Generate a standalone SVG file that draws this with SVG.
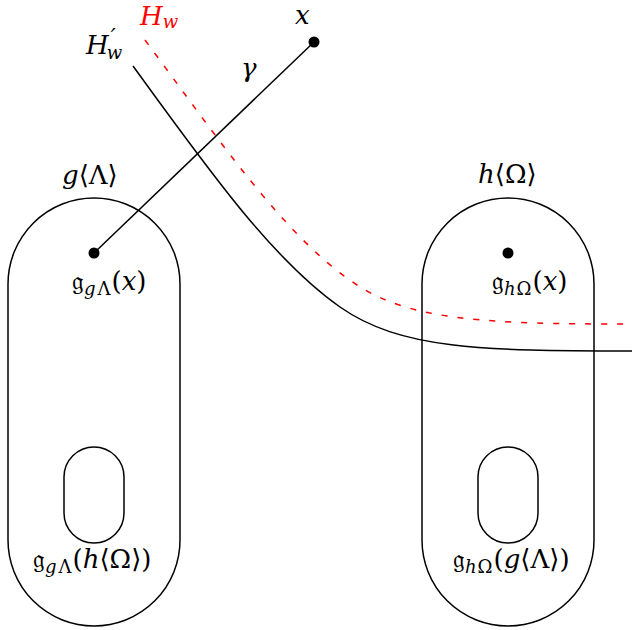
<svg xmlns="http://www.w3.org/2000/svg" width="636" height="630" viewBox="0 0 636 630">
<style>
.shape{fill:none;stroke:#000;stroke-width:1.5}
.curve{fill:none;stroke:#000;stroke-width:1.5}
.dash{fill:none;stroke:#ff0000;stroke-width:1.5;stroke-dasharray:6 10}
.dot{fill:#000}
text{font-family:"DejaVu Serif","Liberation Serif",serif;font-size:26px;fill:#000}
.i{font-style:italic}
.s{font-size:18px}
.p{font-size:22px}
.red{fill:#ff0000}
</style>
<rect width="636" height="630" fill="#fff"/>
<g id="region-gLambda">
<path class="shape" d="M8,284 A86,86 0 0 1 180,284 L180,540 A86,86 0 0 1 8,540 Z"/>
<text x="62" y="184"><tspan class="i">g</tspan>⟨Λ⟩</text>
</g>
<g id="region-hOmega">
<path class="shape" d="M422,284 A86,86 0 0 1 594,284 L594,540 A86,86 0 0 1 422,540 Z"/>
<text x="478" y="183"><tspan class="i">h</tspan>⟨Ω⟩</text>
</g>
<g id="inner-gLambda">
<path class="shape" d="M64,477 A30,30 0 0 1 124,477 L124,513 A30,30 0 0 1 64,513 Z"/>
<text x="33" y="568">𝔤<tspan class="s i" dy="5">g</tspan><tspan class="s" dx="2">Λ</tspan><tspan dy="-5" dx="1">(</tspan><tspan class="i">h</tspan>⟨Ω⟩)</text>
</g>
<g id="inner-hOmega">
<path class="shape" d="M478,477 A30,30 0 0 1 538,477 L538,513 A30,30 0 0 1 478,513 Z"/>
<text x="453" y="568">𝔤<tspan class="s i" dy="5">h</tspan><tspan class="s" dx="1">Ω</tspan><tspan dy="-5" dx="1">(</tspan><tspan class="i">g</tspan>⟨Λ⟩)</text>
</g>
<g id="point-gLambda-x">
<circle class="dot" cx="94" cy="253" r="5.5"/>
<text x="72" y="290">𝔤<tspan class="s i" dy="5">g</tspan><tspan class="s" dx="2">Λ</tspan><tspan dy="-5" dx="1">(</tspan><tspan class="i">x</tspan>)</text>
</g>
<g id="point-hOmega-x">
<circle class="dot" cx="508" cy="253" r="5.5"/>
<text x="492" y="290">𝔤<tspan class="s i" dy="5">h</tspan><tspan class="s" dx="1">Ω</tspan><tspan dy="-5" dx="1">(</tspan><tspan class="i">x</tspan>)</text>
</g>
<g id="point-x">
<circle class="dot" cx="314" cy="42" r="5.5"/>
<text class="i" x="295" y="24">x</text>
</g>
<g id="connectors">
<line class="curve" x1="94" y1="253" x2="314" y2="42"/>
<text class="i" x="241" y="77">γ</text>
<path class="curve" d="M133,66 C203,162 270,258 340,307 C400,349 480,351 632,351"/>
<text class="i" x="86" y="54">H<tspan class="p" dx="2" dy="-10">′</tspan><tspan class="s i" dx="-9" dy="15">w</tspan></text>
<path class="dash" d="M145,40 C217,137 285,238 357,285 C412,321 490,324 632,324"/>
<text class="red" x="140" y="25"><tspan class="i">H</tspan><tspan class="s i" dy="3">w</tspan></text>
</g>
</svg>
